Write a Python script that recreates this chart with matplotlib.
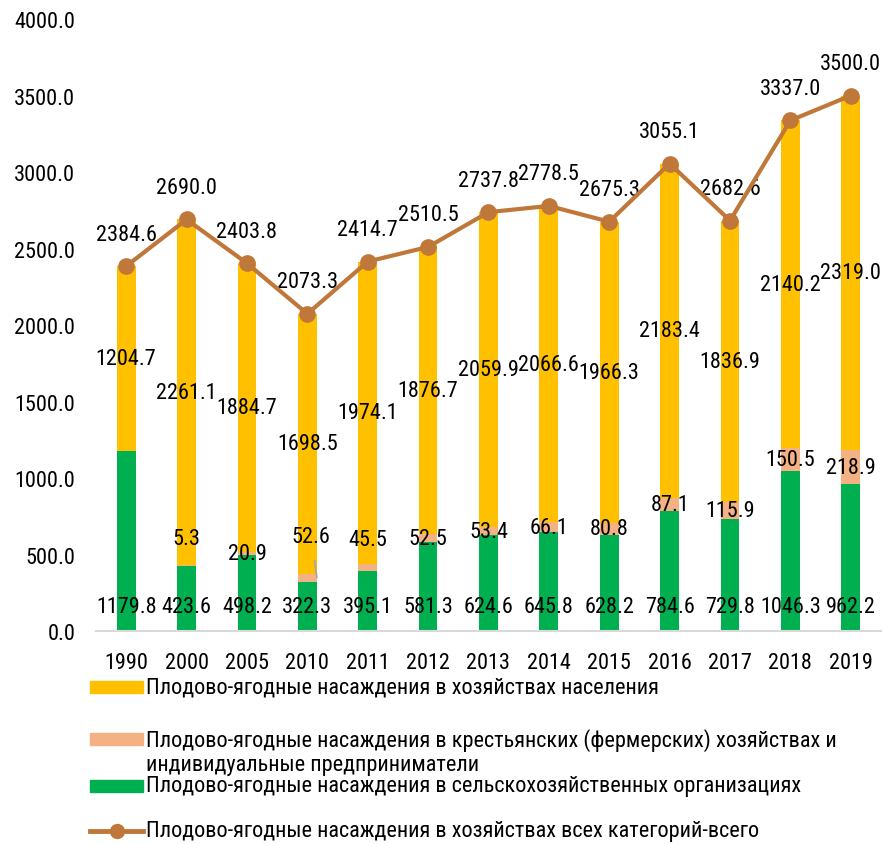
import matplotlib.pyplot as plt
from matplotlib.patches import Rectangle
from matplotlib.lines import Line2D

plt.rcParams["font.family"] = ["Roboto Condensed", "DejaVu Sans"]

years = ["1990", "2000", "2005", "2010", "2011", "2012", "2013", "2014", "2015", "2016", "2017", "2018", "2019"]
agro_orgs = [1179.8, 423.6, 498.2, 322.3, 395.1, 581.3, 624.6, 645.8, 628.2, 784.6, 729.8, 1046.3, 962.2]
farmers = [0.0, 5.3, 20.9, 52.6, 45.5, 52.5, 53.4, 66.1, 80.8, 87.1, 115.9, 150.5, 218.9]
households = [1204.7, 2261.1, 1884.7, 1698.5, 1974.1, 1876.7, 2059.9, 2066.6, 1966.3, 2183.4, 1836.9, 2140.2, 2319.0]
total = [2384.6, 2690.0, 2403.8, 2073.3, 2414.7, 2510.5, 2737.8, 2778.5, 2675.3, 3055.1, 2682.6, 3337.0, 3500.0]

labels = [
    "Плодово-ягодные насаждения в хозяйствах населения",
    "Плодово-ягодные насаждения в крестьянских (фермерских) хозяйствах и\nиндивидуальные предприниматели",
    "Плодово-ягодные насаждения в сельскохозяйственных организациях",
    "Плодово-ягодные насаждения в хозяйствах всех категорий-всего",
]

YELLOW = "#FFC000"
SALMON = "#F4B183"
GREEN = "#00B050"
BROWN = "#C0773A"
FS = 16

# farmer labels that were dragged away from their segment (index -> y of label)
moved_farmer_labels = {1: 605, 3: 618, 4: 599}

fig = plt.figure(figsize=(8.83, 8.45), dpi=100)
ax = fig.add_axes([0.1087, 0.252, 0.889, 0.7243])

x = list(range(len(years)))
w = 0.31
ax.bar(x, agro_orgs, width=w, color=GREEN)
ax.bar(x, farmers, width=w, bottom=agro_orgs, color=SALMON)
bottom3 = [a + f for a, f in zip(agro_orgs, farmers)]
ax.bar(x, households, width=w, bottom=bottom3, color=YELLOW)
ax.plot(x, total, color=BROWN, lw=3, marker="o", ms=11, zorder=5)

for i in x:
    # green: inside base
    ax.annotate(f"{agro_orgs[i]:.1f}", (i, 0), xytext=(0, 18), textcoords="offset points",
                ha="center", va="center", fontsize=FS)
    # yellow: centered
    ax.text(i, bottom3[i] + households[i] / 2, f"{households[i]:.1f}",
            ha="center", va="center", fontsize=FS)
    # total: above marker
    ax.annotate(f"{total[i]:.1f}", (i, total[i]), xytext=(0, 23), textcoords="offset points",
                ha="center", va="center", fontsize=FS)
    if farmers[i] > 0:
        yc = agro_orgs[i] + farmers[i] / 2
        if i == 3:
            ax.annotate(f"{farmers[i]:.1f}", xy=(i + 0.16, yc), xytext=(i + 0.06, moved_farmer_labels[i]),
                        ha="center", va="center", fontsize=FS,
                        arrowprops=dict(arrowstyle="-", color="#A6A6A6", lw=1.2, shrinkA=8, shrinkB=0))
        else:
            ax.text(i, moved_farmer_labels.get(i, yc), f"{farmers[i]:.1f}",
                    ha="center", va="center", fontsize=FS)

ax.set_xlim(-0.5, len(years) - 0.5)
ax.set_ylim(0, 4000)
ax.set_yticks(range(0, 4001, 500))
ax.set_yticklabels([f"{v:.1f}" for v in range(0, 4001, 500)], fontsize=FS)
ax.set_xticks(x)
ax.set_xticklabels(years, fontsize=FS)
ax.tick_params(axis="both", length=0)
ax.tick_params(axis="x", pad=15)
ax.tick_params(axis="y", pad=15)
for s in ["left", "right", "top"]:
    ax.spines[s].set_visible(False)
ax.spines["bottom"].set_color("#D9D9D9")
ax.spines["bottom"].set_linewidth(1.5)

# legend drawn by hand
W, H = 883, 845
def fx(px):
    return px / W
def fy(py):
    return 1 - py / H

rows = [688, 740, 787, 832]
colors = [YELLOW, SALMON, GREEN]
for r, c in zip(rows[:3], colors):
    fig.patches.append(Rectangle((fx(90), fy(r + 6)), fx(143) - fx(90), 12 / H,
                                 transform=fig.transFigure, color=c))
fig.lines.append(Line2D([fx(90), fx(143)], [fy(rows[3]), fy(rows[3])], transform=fig.transFigure,
                        color=BROWN, lw=3.5))
fig.lines.append(Line2D([fx(117)], [fy(rows[3])], transform=fig.transFigure,
                        color=BROWN, marker="o", ms=10))
fig.text(fx(146), fy(rows[0]), labels[0], fontsize=FS, va="center")
fig.text(fx(146), fy(rows[1] - 11), labels[1], fontsize=FS, va="top", linespacing=1.2)
fig.text(fx(146), fy(rows[2]), labels[2], fontsize=FS, va="center")
fig.text(fx(146), fy(rows[3]), labels[3], fontsize=FS, va="center")

fig.savefig("out.png", dpi=100)
